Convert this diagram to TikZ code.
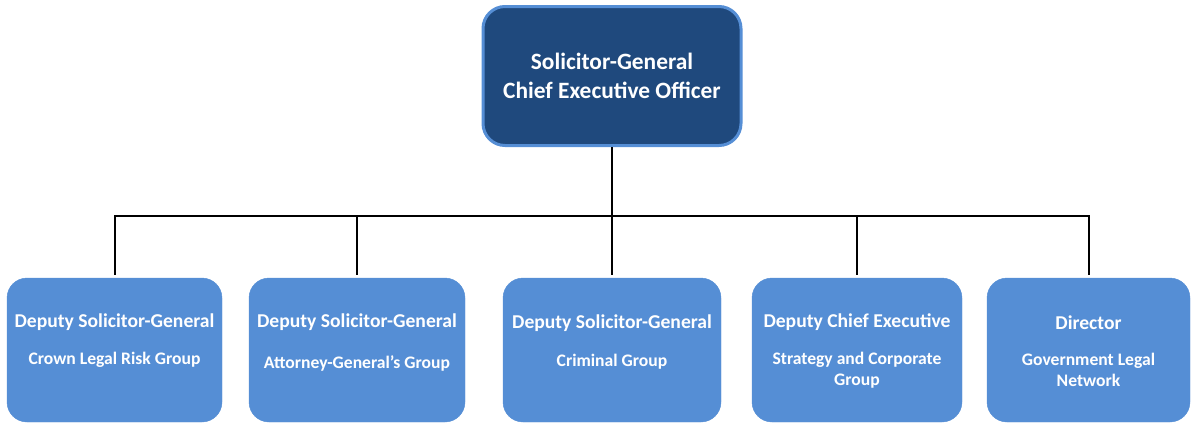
\documentclass[tikz,border=0pt]{standalone}
\usepackage{fontspec}
\setmainfont{Carlito}
\usetikzlibrary{positioning}
\definecolor{chiefblue}{HTML}{1F497D}
\definecolor{unitblue}{HTML}{558ED5}
\begin{document}
\begin{tikzpicture}[
        x=1pt, y=-1pt,
        chief/.style={rectangle, rounded corners=22pt, fill=chiefblue, draw=unitblue,
            line width=3pt, minimum width=258pt, minimum height=139pt,
            text=white, align=center, font=\bfseries\fontsize{23.4}{28.5}\selectfont},
        unitbox/.style={rectangle, rounded corners=20pt, fill=unitblue, draw=unitblue,
            minimum height=144pt},
        title/.style={text=white, inner sep=0pt, font=\bfseries\fontsize{19.6}{22}\selectfont},
        unit/.style={text=white, inner sep=0pt, align=center, font=\bfseries\fontsize{17.6}{21}\selectfont},
        link/.style={line width=2pt}
    ]
    \useasboundingbox (0,0) rectangle (1192,424);
    \node[chief] (sg) at (612,76) {Solicitor-General\\Chief Executive Officer};
    \node[unitbox, minimum width=215pt] (crown) at (114.5,350) {};
    \node[unitbox, minimum width=216pt] (ag) at (357,350) {};
    \node[unitbox, minimum width=218pt] (criminal) at (612,350) {};
    \node[unitbox, minimum width=210pt] (corporate) at (857,350) {};
    \node[unitbox, minimum width=203pt] (network) at (1088.5,350) {};
    % titles and groups
    \node[title, below=36pt of crown.north] (crown-title) {Deputy Solicitor-General};
    \node[unit, below=74pt of crown.north] (crown-unit) {Crown Legal Risk Group};
    \node[title, below=36pt of ag.north] (ag-title) {Deputy Solicitor-General};
    \node[unit, below=78pt of ag.north] (ag-unit) {Attorney-General’s Group};
    \node[title, below=37pt of criminal.north] (criminal-title) {Deputy Solicitor-General};
    \node[unit, below=76pt of criminal.north] (criminal-unit) {Criminal Group};
    \node[title, below=36pt of corporate.north] (corporate-title) {Deputy Chief Executive};
    \node[unit, below=74pt of corporate.north] (corporate-unit) {Strategy and Corporate\\Group};
    \node[title, below=38pt of network.north] (network-title) {Director};
    \node[unit, below=75pt of network.north] (network-unit) {Government Legal\\Network};
    % connectors
    \coordinate (bus) at (612,216);
    \draw[link] (sg.south) -- (bus);
    \draw[link] ([yshift=3pt]crown.north) |- (bus);
    \draw[link] ([yshift=3pt]ag.north) |- (bus);
    \draw[link] ([yshift=3pt]criminal.north) -- (bus);
    \draw[link] ([yshift=3pt]corporate.north) |- (bus);
    \draw[link] ([yshift=3pt]network.north) |- (bus);
\end{tikzpicture}
\end{document}
